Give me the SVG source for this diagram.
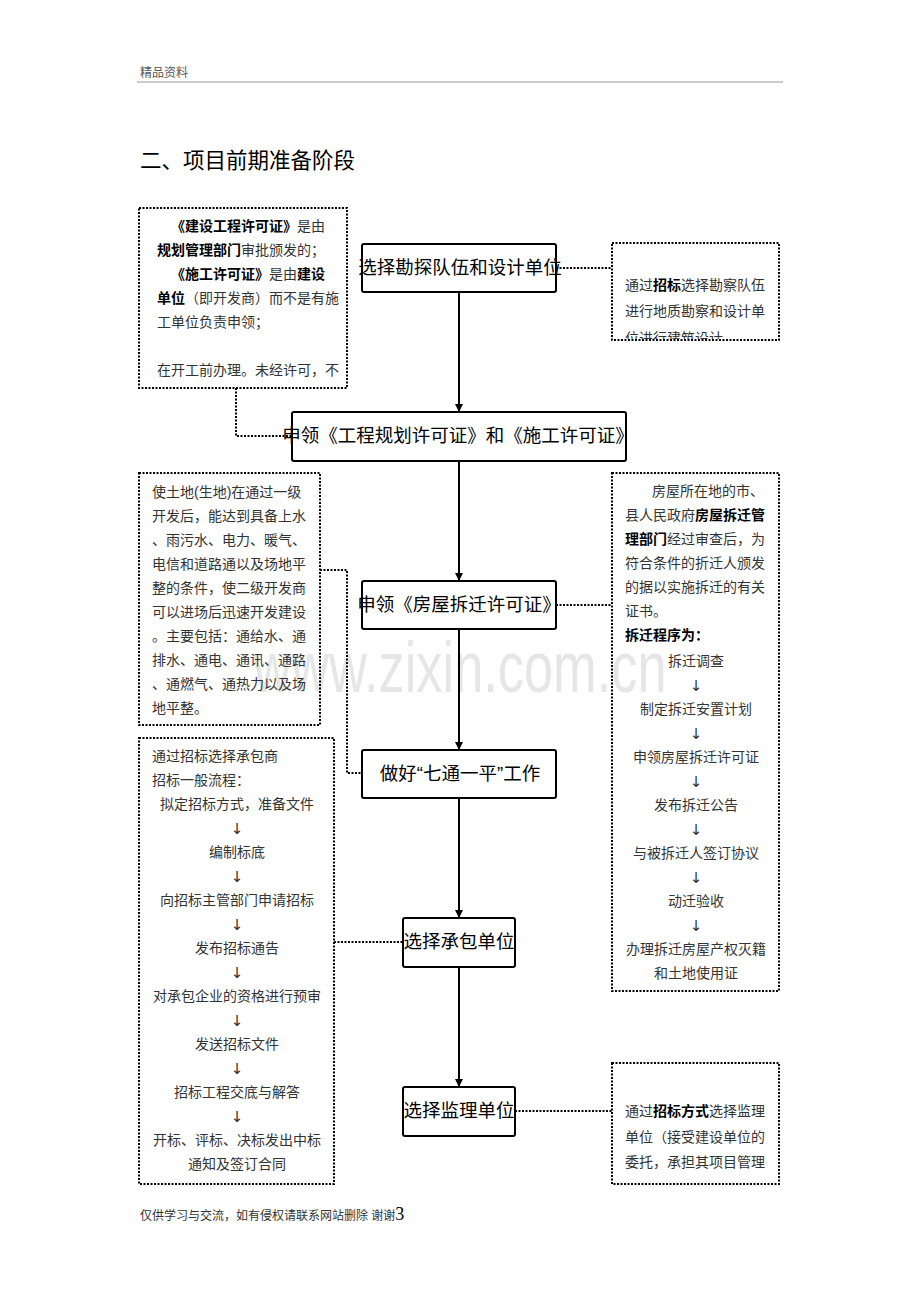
<svg xmlns="http://www.w3.org/2000/svg" width="920" height="1302" viewBox="0 0 920 1302">
<style>
.t{font-family:'Liberation Sans','Noto Sans CJK SC',sans-serif;}
.bx{font-family:'Liberation Sans','Noto Sans CJK SC',sans-serif;font-size:14px;fill:#333;}
.b{font-weight:bold;fill:#000;}
.c{text-anchor:middle;}
.ar{font-family:'DejaVu Sans',sans-serif;font-size:15px;fill:#333;text-anchor:middle;}
.node rect{fill:#fff;stroke:#000;stroke-width:2;}
.node text{font-family:'Liberation Sans','Noto Sans CJK SC',sans-serif;font-size:18.5px;fill:#000;text-anchor:middle;}
.dot{fill:none;stroke:#000;stroke-width:2;stroke-dasharray:2 1.5;}
.dbox{fill:none;stroke:#000;stroke-width:2;stroke-dasharray:2 1.5;}
.arr{fill:none;stroke:#000;stroke-width:2;marker-end:url(#ah);}
</style>
<defs>
<marker id="ah" viewBox="0 0 8 16" refX="8" refY="8" markerWidth="8" markerHeight="16" markerUnits="userSpaceOnUse" orient="auto">
<path d="M0,4 L8,8 L0,12 Z" fill="#000"/>
</marker>
<clipPath id="clip1"><rect x="612" y="243" width="167" height="96"/></clipPath>
</defs>
<rect width="920" height="1302" fill="#fff"/>
<text class="t" x="460" y="692" font-size="72" fill="#e6e6e6" text-anchor="middle" textLength="413" lengthAdjust="spacingAndGlyphs">www.zixin.com.cn</text>
<g id="header">
<text class="t" x="140" y="77" font-size="12" fill="#555">精品资料</text>
<line x1="137" y1="82" x2="783" y2="82" stroke="#bbb" stroke-width="1.5"/>
<text class="t" x="140" y="168" font-size="21.5" fill="#000">二、项目前期准备阶段</text>
</g>
<g id="connectors">
<path class="arr" d="M459,292 V412"/>
<path class="arr" d="M459,461 V581"/>
<path class="arr" d="M459,629 V750"/>
<path class="arr" d="M459,798 V918"/>
<path class="arr" d="M459,967 V1087"/>
<path class="dot" d="M556,268 H612"/>
<path class="dot" d="M236,388 V436 H292"/>
<path class="dot" d="M320,570 H347 V773 H362"/>
<path class="dot" d="M556,605 H612"/>
<path class="dot" d="M334,942 H403"/>
<path class="dot" d="M515,1111 H612"/>
</g>
<g id="note1">
<rect class="dbox" x="139" y="208" width="208" height="180"/>
<text class="bx" x="171" y="231"><tspan class="b">《建设工程许可证》</tspan>是由</text>
<text class="bx" x="157" y="255"><tspan class="b">规划管理部门</tspan>审批颁发的；</text>
<text class="bx" x="171" y="279"><tspan class="b">《施工许可证》</tspan>是由<tspan class="b">建设</tspan></text>
<text class="bx" x="157" y="303"><tspan class="b">单位</tspan>（即开发商）而不是有施</text>
<text class="bx" x="157" y="327">工单位负责申领；</text>
<text class="bx" x="157" y="375">在开工前办理。未经许可，不</text>
</g>
<g id="node1" class="node">
<rect x="362" y="244" width="194" height="48" rx="2"/>
<text x="460" y="274">选择勘探队伍和设计单位</text>
</g>
<g id="note2">
<rect class="dbox" x="612" y="243" width="167" height="97"/>
<g clip-path="url(#clip1)">
<text class="bx" x="625" y="290">通过<tspan class="b">招标</tspan>选择勘察队伍</text>
<text class="bx" x="625" y="316">进行地质勘察和设计单</text>
<text class="bx" x="625" y="343">位进行建筑设计</text>
</g>
</g>
<g id="node2" class="node">
<rect x="292" y="412" width="334" height="49" rx="2"/>
<text x="458" y="442" font-size="18">申领《工程规划许可证》和《施工许可证》</text>
</g>
<g id="note3">
<rect class="dbox" x="139" y="473" width="181" height="252"/>
<text class="bx" x="152" y="497">使土地(生地)在通过一级</text>
<text class="bx" x="152" y="521">开发后，能达到具备上水</text>
<text class="bx" x="152" y="545">、雨污水、电力、暖气、</text>
<text class="bx" x="152" y="569">电信和道路通以及场地平</text>
<text class="bx" x="152" y="593">整的条件，使二级开发商</text>
<text class="bx" x="152" y="617">可以进场后迅速开发建设</text>
<text class="bx" x="152" y="641">。主要包括：通给水、通</text>
<text class="bx" x="152" y="665">排水、通电、通讯、通路</text>
<text class="bx" x="152" y="689">、通燃气、通热力以及场</text>
<text class="bx" x="152" y="713">地平整。</text>
</g>
<g id="node3" class="node">
<rect x="362" y="581" width="194" height="48" rx="2"/>
<text x="459" y="611">申领《房屋拆迁许可证》</text>
</g>
<g id="note4">
<rect class="dbox" x="612" y="473" width="167" height="518"/>
<text class="bx" x="652" y="496">房屋所在地的市、</text>
<text class="bx" x="625" y="520">县人民政府<tspan class="b">房屋拆迁管</tspan></text>
<text class="bx" x="625" y="544"><tspan class="b">理部门</tspan>经过审查后，为</text>
<text class="bx" x="625" y="568">符合条件的折迁人颁发</text>
<text class="bx" x="625" y="592">的据以实施拆迁的有关</text>
<text class="bx" x="625" y="616">证书。</text>
<text class="bx b" x="625" y="640">拆迁程序为：</text>
<text class="bx c" x="696" y="666">拆迁调查</text>
<text class="ar" x="696" y="691">↓</text>
<text class="bx c" x="696" y="714">制定拆迁安置计划</text>
<text class="ar" x="696" y="739">↓</text>
<text class="bx c" x="696" y="762">申领房屋拆迁许可证</text>
<text class="ar" x="696" y="787">↓</text>
<text class="bx c" x="696" y="810">发布拆迁公告</text>
<text class="ar" x="696" y="835">↓</text>
<text class="bx c" x="696" y="858">与被拆迁人签订协议</text>
<text class="ar" x="696" y="883">↓</text>
<text class="bx c" x="696" y="906">动迁验收</text>
<text class="ar" x="696" y="931">↓</text>
<text class="bx c" x="696" y="954">办理拆迁房屋产权灭籍</text>
<text class="bx c" x="696" y="978">和土地使用证</text>
</g>
<g id="node4" class="node">
<rect x="362" y="750" width="194" height="48" rx="2"/>
<text x="460" y="780">做好“七通一平”工作</text>
</g>
<g id="note5">
<rect class="dbox" x="139" y="738" width="195" height="446"/>
<text class="bx" x="152" y="761">通过招标选择承包商</text>
<text class="bx" x="152" y="785">招标一般流程：</text>
<text class="bx c" x="237" y="809">拟定招标方式，准备文件</text>
<text class="ar" x="237" y="834">↓</text>
<text class="bx c" x="237" y="857">编制标底</text>
<text class="ar" x="237" y="882">↓</text>
<text class="bx c" x="237" y="905">向招标主管部门申请招标</text>
<text class="ar" x="237" y="930">↓</text>
<text class="bx c" x="237" y="953">发布招标通告</text>
<text class="ar" x="237" y="978">↓</text>
<text class="bx c" x="237" y="1001">对承包企业的资格进行预审</text>
<text class="ar" x="237" y="1026">↓</text>
<text class="bx c" x="237" y="1049">发送招标文件</text>
<text class="ar" x="237" y="1074">↓</text>
<text class="bx c" x="237" y="1097">招标工程交底与解答</text>
<text class="ar" x="237" y="1122">↓</text>
<text class="bx c" x="237" y="1145">开标、评标、决标发出中标</text>
<text class="bx c" x="237" y="1169">通知及签订合同</text>
</g>
<g id="node5" class="node">
<rect x="403" y="918" width="112" height="49" rx="2"/>
<text x="459" y="948">选择承包单位</text>
</g>
<g id="node6" class="node">
<rect x="403" y="1087" width="112" height="49" rx="2"/>
<text x="459" y="1117">选择监理单位</text>
</g>
<g id="note6">
<rect class="dbox" x="612" y="1063" width="167" height="121"/>
<text class="bx" x="625" y="1116">通过<tspan class="b">招标方式</tspan>选择监理</text>
<text class="bx" x="625" y="1142">单位（接受建设单位的</text>
<text class="bx" x="625" y="1167">委托，承担其项目管理</text>
</g>
<g id="footer">
<text class="t" x="140" y="1220" font-size="12" fill="#333">仅供学习与交流，如有侵权请联系网站删除 谢谢<tspan font-family="'Liberation Serif',serif" font-size="18" fill="#000">3</tspan></text>
</g>
</svg>
